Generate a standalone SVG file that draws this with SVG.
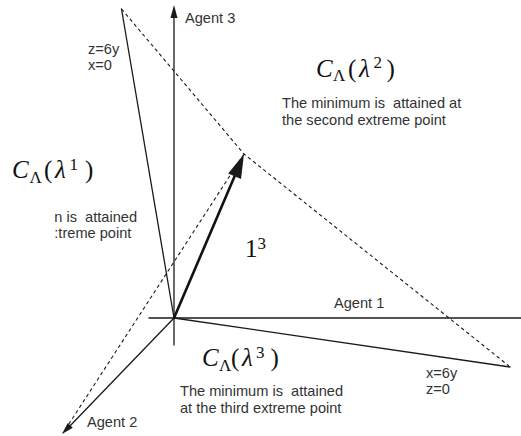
<svg xmlns="http://www.w3.org/2000/svg" width="521" height="436" viewBox="0 0 521 436">
<style>
.ln{stroke:#1a1a1a;stroke-width:1.3;fill:none;stroke-linecap:round}
.ds{stroke:#1a1a1a;stroke-width:1.1;fill:none;stroke-dasharray:3.5 3}
.ah{fill:#1a1a1a;stroke:none}
.t{font-family:"Liberation Sans",Arial,sans-serif;font-size:14.6px;fill:#333;white-space:pre}
.m{font-family:"Liberation Serif","Times New Roman",serif;font-size:25px;fill:#111}
.i{font-style:italic}
.s{font-size:17px}
</style>
<rect width="521" height="436" fill="#fff"/>
<g id="connectors">
  <line class="ln" x1="174" y1="345" x2="174" y2="14"/>
  <polygon class="ah" points="174,5 170.5,18 177.5,18"/>
  <line class="ln" x1="149" y1="318" x2="521" y2="318"/>
  <line class="ln" x1="174" y1="318" x2="68" y2="428"/>
  <polygon class="ah" points="62,434 72.8,427.8 67.8,423"/>
  <line class="ln" x1="121.5" y1="9" x2="174" y2="318"/>
  <line class="ln" x1="174" y1="318" x2="510" y2="367"/>
  <polyline class="ds" points="121.5,9 244,154 509,366"/>
  <line class="ds" x1="244" y1="154" x2="63" y2="433"/>
  <line stroke="#111" stroke-width="2.6" stroke-linecap="round" x1="174" y1="318" x2="236" y2="173"/>
  <polygon class="ah" points="244,154 228.2,173.4 241,178.9"/>
</g>
<g id="agent3"><text class="t" x="185" y="23">Agent 3</text></g>
<g id="agent1"><text class="t" x="334" y="308">Agent 1</text></g>
<g id="agent2"><text class="t" x="87" y="427">Agent 2</text></g>
<g id="plane-z6y"><text class="t" x="88" y="54">z=6y</text><text class="t" x="88" y="70">x=0</text></g>
<g id="plane-x6y"><text class="t" x="426" y="378">x=6y</text><text class="t" x="426" y="394">z=0</text></g>
<g id="region2">
  <text class="m"><tspan class="i" x="316" y="76.5">C</tspan><tspan class="s" x="333" y="81">Λ</tspan><tspan x="348" y="76.5">(</tspan><tspan class="i" x="359" y="76.5">λ</tspan><tspan class="s" x="373.5" y="68">2</tspan><tspan x="386.5" y="76.5">)</tspan></text>
  <text class="t" x="282" y="107.5">The minimum is  attained at</text>
  <text class="t" x="282" y="124.5">the second extreme point</text>
</g>
<g id="region1">
  <text class="m"><tspan class="i" x="12" y="178">C</tspan><tspan class="s" x="29.5" y="182.5">Λ</tspan><tspan x="44" y="178">(</tspan><tspan class="i" x="55" y="178">λ</tspan><tspan class="s" x="69.5" y="169.5">1</tspan><tspan x="85" y="178">)</tspan></text>
  <text class="t" x="54.3" y="221.5">n is  attained</text>
  <text class="t" x="54.3" y="238">:treme point</text>
</g>
<g id="vector">
  <text class="m" font-size="23"><tspan x="245" y="256.5">1</tspan><tspan class="s" x="257.5" y="249">3</tspan></text>
</g>
<g id="region3">
  <text class="m"><tspan class="i" x="202" y="366">C</tspan><tspan class="s" x="219" y="370.5">Λ</tspan><tspan x="231" y="366">(</tspan><tspan class="i" x="242" y="366">λ</tspan><tspan class="s" x="256" y="357.5">3</tspan><tspan x="270.5" y="366">)</tspan></text>
  <text class="t" x="180" y="395.5">The minimum is  attained</text>
  <text class="t" x="180" y="412.5">at the third extreme point</text>
</g>
</svg>
